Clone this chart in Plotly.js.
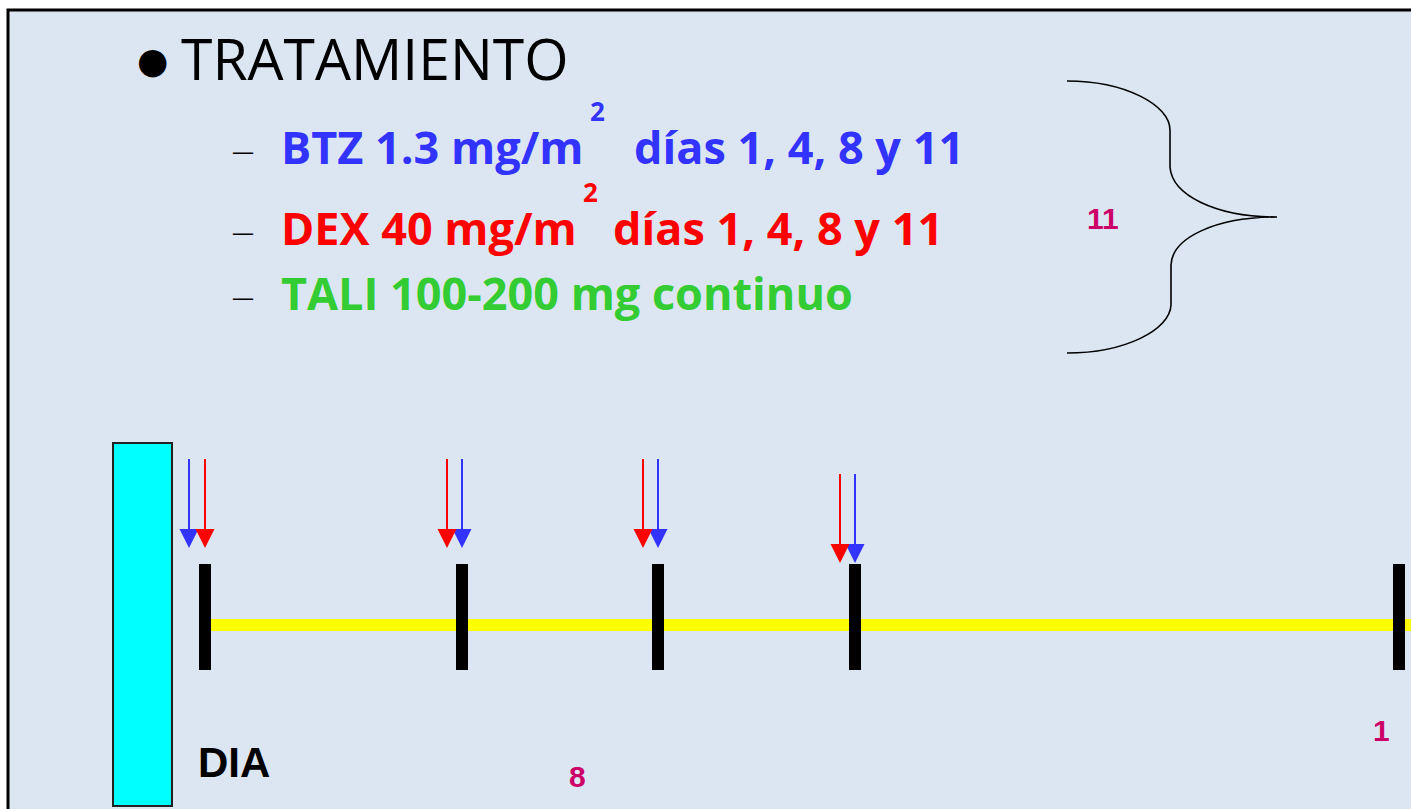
<!DOCTYPE html>
<html>
<head>
<meta charset="utf-8">
<script src="https://cdn.plot.ly/plotly-3.0.1.min.js"></script>
<style>html,body{margin:0;padding:0;background:#fff;}#chart{width:1411px;height:809px;}</style>
</head>
<body>
<div id="chart"></div>
<script>
// Timeline marks (position along the timeline)
const tickX = [205, 462, 658, 855, 1399];
const tickTop = 564, tickBottom = 670;
// Dosing days and arrow positions
const doseDays = [1, 4, 8, 11];
const btzX = [189, 462, 658, 855];
const dexX = [205, 447, 643, 840];
const arrowTop = [459, 459, 459, 474];
const arrowTip = [548, 548, 548, 563];
// Labels along the timeline
const dayLabels = ['DIA', '8', '1', '11'];
const dayLabelX = [196, 577, 1381, 1103];
const dayLabelY = [762, 776, 730, 218];
// Treatment text lines
const bulletTitle = 'TRATAMIENTO';
const drugMain = ['BTZ 1.3 mg/m', 'DEX 40 mg/m', 'TALI 100-200 mg continuo'];
const drugSup = ['2', '2', ''];
const drugTail = ['días 1, 4, 8 y 11', 'días 1, 4, 8 y 11', ''];
const drugColor = ['#3333ff', '#ff0000', '#33cc33'];
const drugY = [146, 227, 292];
const supX = [588, 581, 0];
const tailX = [632, 611, 0];

const BLUE = '#3333ff', RED = '#ff0000';

function segs(xs, y0s, y1s) {
  const x = [], y = [];
  xs.forEach((v, i) => {
    x.push(v, v, null);
    y.push(Array.isArray(y0s) ? y0s[i] : y0s, Array.isArray(y1s) ? y1s[i] : y1s, null);
  });
  return {x, y};
}

const traces = [];
// yellow timeline
traces.push({x: [tickX[0], 1420], y: [625, 625], mode: 'lines',
  line: {color: '#ffff00', width: 12}, hoverinfo: 'skip', showlegend: false});
// black timeline marks
const t = segs(tickX, tickTop, tickBottom);
traces.push({x: t.x, y: t.y, mode: 'lines', line: {color: '#000000', width: 12},
  hoverinfo: 'skip', showlegend: false});
// arrow shafts
const b = segs(btzX, arrowTop, arrowTip.map(v => v - 8));
traces.push({x: b.x, y: b.y, mode: 'lines', line: {color: BLUE, width: 2}, hoverinfo: 'skip', showlegend: false});
const d = segs(dexX, arrowTop, arrowTip.map(v => v - 8));
traces.push({x: d.x, y: d.y, mode: 'lines', line: {color: RED, width: 2}, hoverinfo: 'skip', showlegend: false});
// arrow heads
traces.push({x: btzX, y: arrowTip, mode: 'markers', text: doseDays.map(v => 'BTZ día ' + v),
  marker: {symbol: 'arrow-down', size: 19, color: BLUE, line: {width: 0}}, hoverinfo: 'text', showlegend: false});
traces.push({x: dexX, y: arrowTip, mode: 'markers', text: doseDays.map(v => 'DEX día ' + v),
  marker: {symbol: 'arrow-down', size: 19, color: RED, line: {width: 0}}, hoverinfo: 'text', showlegend: false});

const annotations = [];
const FONT = 'Open Sans, sans-serif';
annotations.push({x: 135, y: 60, xref: 'x', yref: 'y', xanchor: 'left', yanchor: 'middle', showarrow: false,
  text: '●', font: {family: 'DejaVu Sans', size: 36, color: '#000'}});
annotations.push({x: 179, y: 58, xref: 'x', yref: 'y', xanchor: 'left', yanchor: 'middle', showarrow: false,
  text: bulletTitle, font: {family: FONT, size: 57, color: '#000'}});
drugMain.forEach((txt, i) => {
  annotations.push({x: 230, y: drugY[i] + 4, xref: 'x', yref: 'y', xanchor: 'left', yanchor: 'middle', showarrow: false,
    text: '—', font: {family: FONT, size: 22, color: '#000'}});
  annotations.push({x: 279, y: drugY[i], xref: 'x', yref: 'y', xanchor: 'left', yanchor: 'middle', showarrow: false,
    text: '<b>' + txt + '</b>', font: {family: FONT, size: 45, color: drugColor[i]}});
  if (drugSup[i]) annotations.push({x: supX[i], y: drugY[i] - 35, xref: 'x', yref: 'y', xanchor: 'left', yanchor: 'middle', showarrow: false,
    text: '<b>' + drugSup[i] + '</b>', font: {family: FONT, size: 26, color: drugColor[i]}});
  if (drugTail[i]) annotations.push({x: tailX[i], y: drugY[i], xref: 'x', yref: 'y', xanchor: 'left', yanchor: 'middle', showarrow: false,
    text: '<b>' + drugTail[i] + '</b>', font: {family: FONT, size: 45, color: drugColor[i]}});
});
dayLabels.forEach((txt, i) => {
  const isDia = txt === 'DIA';
  annotations.push({x: dayLabelX[i], y: dayLabelY[i], xref: 'x', yref: 'y',
    xanchor: isDia ? 'left' : 'center', yanchor: 'middle', showarrow: false,
    text: '<b>' + txt + '</b>',
    font: {family: 'Liberation Sans', size: isDia ? 42 : 30, color: isDia ? '#000' : '#cc0066'}});
});

const shapes = [
  // slide background with border
  {type: 'rect', xref: 'x', yref: 'y', x0: 8, y0: 10, x1: 1425, y1: 825,
   fillcolor: '#dce6f2', line: {color: '#000', width: 3}, layer: 'below'},
  // cyan block
  {type: 'rect', xref: 'x', yref: 'y', x0: 113, y0: 443, x1: 172, y1: 806,
   fillcolor: '#00ffff', line: {color: '#222', width: 2}, layer: 'below'},
  // curly brace
  {type: 'path', xref: 'x', yref: 'y', layer: 'above',
   path: 'M1067,81 C1125,81 1170,105 1170,130 L1170,167 C1172,195 1215,217 1277,217 ' +
         'C1215,217 1172,238 1171,265 L1171,305 C1170,330 1125,353 1067,353',
   line: {color: '#000', width: 1.6}}
];

const layout = {
  width: 1411, height: 809,
  margin: {l: 0, r: 0, t: 0, b: 0},
  paper_bgcolor: '#ffffff', plot_bgcolor: '#ffffff',
  xaxis: {range: [0, 1411], visible: false, fixedrange: true},
  yaxis: {range: [809, 0], visible: false, fixedrange: true},
  showlegend: false,
  shapes: shapes,
  annotations: annotations
};
Plotly.newPlot('chart', traces, layout, {displayModeBar: false, staticPlot: true});
</script>
</body>
</html>
